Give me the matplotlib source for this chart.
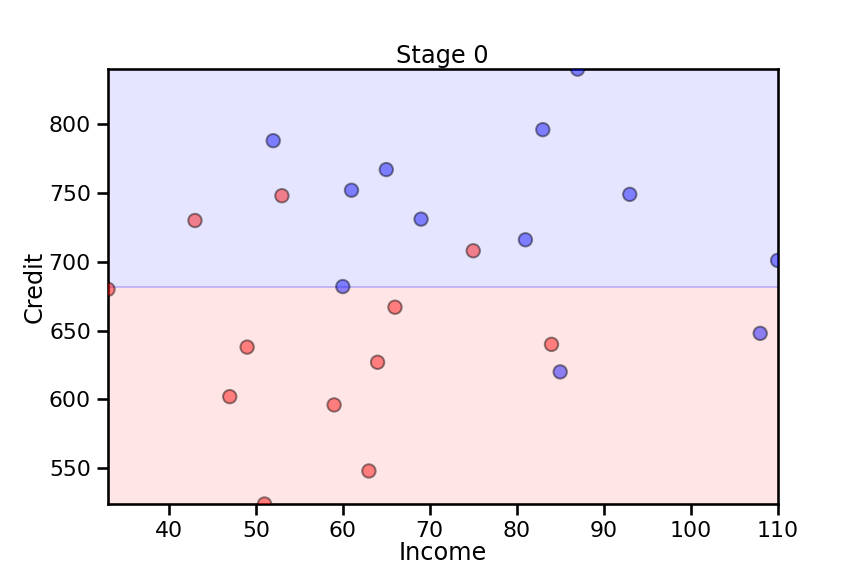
import matplotlib
matplotlib.use('Agg')
import matplotlib.pyplot as plt

# applicants: income (k) and credit score, coloured by label
income = [33, 43, 53, 47, 49, 51, 59, 63, 64, 66, 75, 84,
          52, 61, 65, 69, 60, 83, 87, 93, 81, 110, 108, 85]
credit = [680, 730, 748, 602, 638, 524, 596, 548, 627, 667, 708, 640,
          788, 752, 767, 731, 682, 796, 840, 749, 716, 701, 648, 620]
label = ['red'] * 12 + ['blue'] * 12

threshold = 682
stage = 0

fig = plt.figure(figsize=(6, 4), dpi=144)
ax = fig.add_axes([0.125, 0.125, 0.775, 0.755])

xmin, xmax = min(income), max(income)
ymin, ymax = min(credit), max(credit)

ax.axhspan(ymin, threshold, color='red', alpha=0.1, lw=0)
ax.axhspan(threshold, ymax, color='blue', alpha=0.1, lw=0)
ax.axhline(threshold, color='blue', alpha=0.2, lw=1)

ax.scatter(income, credit, c=label, edgecolors='k', alpha=0.45, s=45,
           linewidths=1, zorder=3)

ax.set_xlim(xmin, xmax)
ax.set_ylim(ymin, ymax)
ax.set_yticks([550, 600, 650, 700, 750, 800])

ax.set_xlabel('Income', fontsize=12, labelpad=0)
ax.set_ylabel('Credit', fontsize=12, labelpad=1)
ax.set_title('Stage %d' % stage, fontsize=12, pad=3)
ax.tick_params(labelsize=11, length=5.5, width=1.3, pad=3)
for s in ax.spines.values():
    s.set_linewidth(1.3)

fig.savefig('out.png', dpi=144)
